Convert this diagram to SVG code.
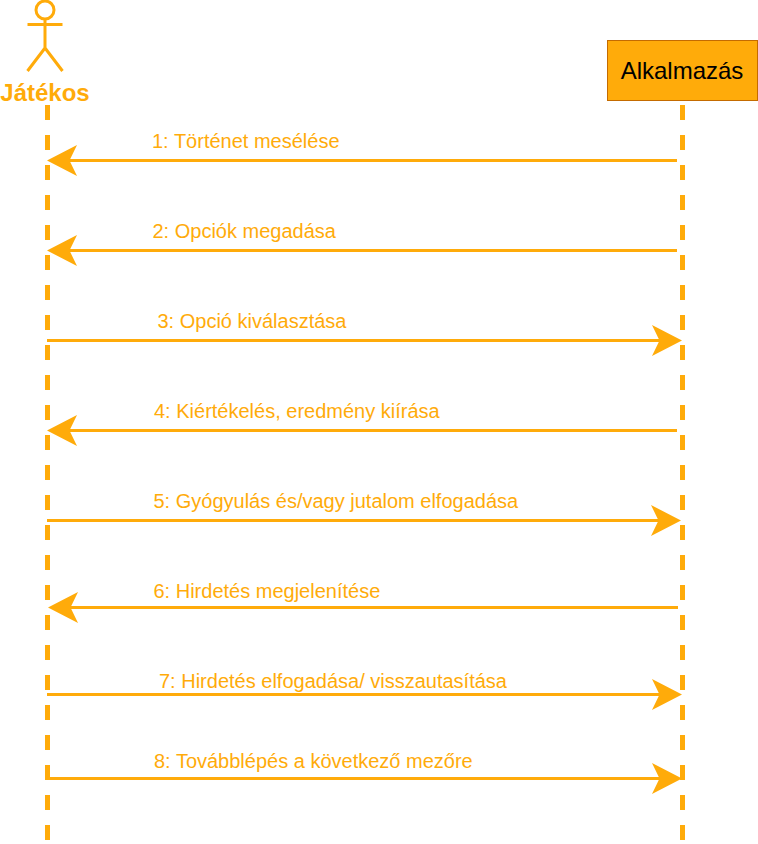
<svg xmlns="http://www.w3.org/2000/svg" width="758" height="844" viewBox="0 0 758 844">
<style>
text{font-family:"Liberation Sans",Arial,sans-serif;fill:#ffab0a}
.m{font-size:20px}
.life{fill:none;stroke:#ffab0a;stroke-width:5;stroke-dasharray:15 15}
.msg{fill:none;stroke:#ffab0a;stroke-width:3}
.head{fill:#ffab0a;stroke:none}
.act{fill:none;stroke:#ffab0a;stroke-width:3}
</style>
<defs>
<path id="l" class="head" d="M0 0L30-15.500L22.500 0L30 15.500Z"/>
<path id="r" class="head" d="M0 0L-30-15.500L-22.500 0L-30 15.500Z"/>
</defs>
<g id="actor-jatekos">
<circle class="act" cx="45" cy="10" r="9"/>
<path class="act" d="M45 19V48M27.500 24.500H62.500M45 48L27.500 71M45 48L62.500 71"/>
<text x="45" y="100.500" text-anchor="middle" font-size="24" font-weight="700">Játékos</text>
</g>
<g id="node-alkalmazas">
<rect x="607.500" y="40.500" width="150" height="60" fill="#ffab0a" stroke="#c46b00" stroke-width="1"/>
<text x="682" y="79" text-anchor="middle" font-size="24" style="fill:#000">Alkalmazás</text>
</g>
<g id="connectors">
<path class="life" d="M47.500 105V844"/>
<path class="life" d="M682.500 105V844"/>
<path class="msg" d="M677 160.500H68"/><use href="#l" x="47" y="160.500"/>
<path class="msg" d="M677 250.500H68"/><use href="#l" x="47" y="250.500"/>
<path class="msg" d="M47 340.500H661"/><use href="#r" x="682" y="340.500"/>
<path class="msg" d="M677 430.500H68"/><use href="#l" x="47" y="430.500"/>
<path class="msg" d="M47 520.500H660"/><use href="#r" x="681" y="520.500"/>
<path class="msg" d="M678 607.500H69"/><use href="#l" x="48" y="607.500"/>
<path class="msg" d="M47 694.500H661"/><use href="#r" x="682" y="694.500"/>
<path class="msg" d="M47 778.500H661"/><use href="#r" x="682" y="778.500"/>
</g>
<g id="labels">
<text class="m" x="152" y="148">1: Történet mesélése</text>
<text class="m" x="152.500" y="238">2: Opciók megadása</text>
<text class="m" x="157.500" y="328">3: Opció kiválasztása</text>
<text class="m" x="154" y="418">4: Kiértékelés, eredmény kiírása</text>
<text class="m" x="153.500" y="508">5: Gyógyulás és/vagy jutalom elfogadása</text>
<text class="m" x="153.500" y="598">6: Hirdetés megjelenítése</text>
<text class="m" x="159" y="688">7: Hirdetés elfogadása/ visszautasítása</text>
<text class="m" x="154" y="768">8: Továbblépés a következő mezőre</text>
</g>
</svg>
